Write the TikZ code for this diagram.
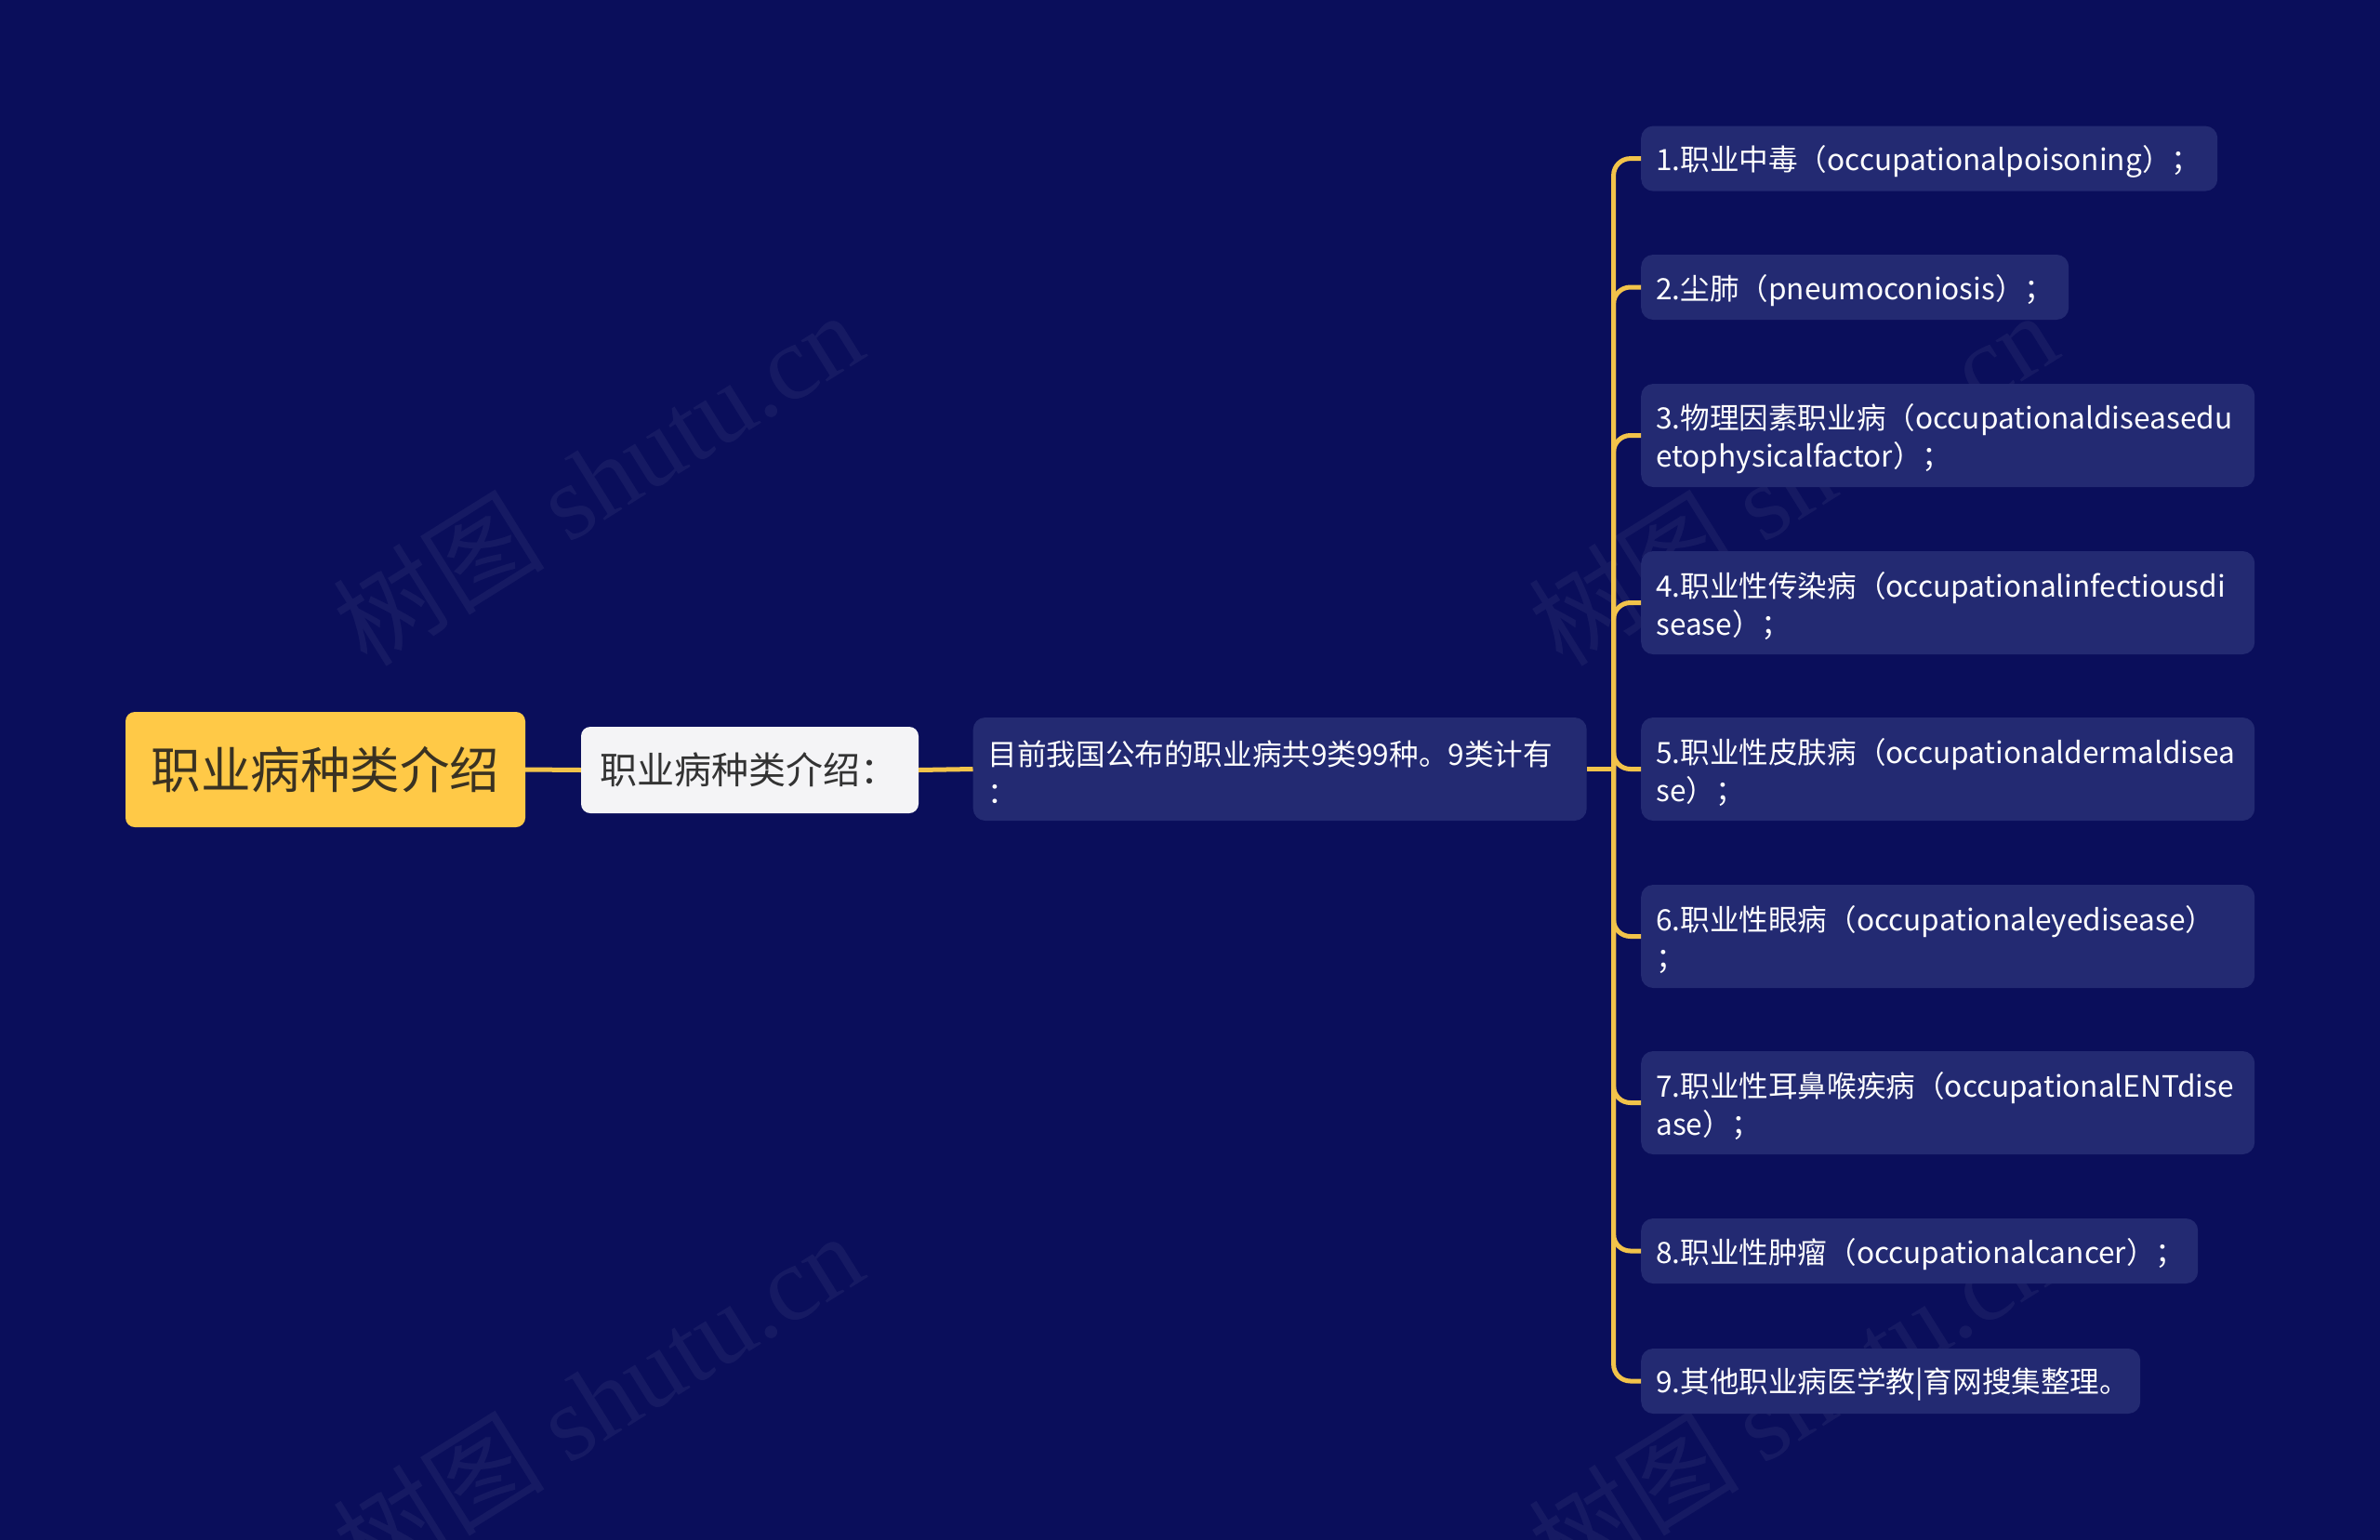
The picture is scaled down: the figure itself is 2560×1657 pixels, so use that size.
\documentclass[tikz,border=0pt]{standalone}
\usepackage{fontspec}
\setmainfont{Noto Sans CJK SC}
\newfontfamily\wmserif{Liberation Serif}
\definecolor{bg}{HTML}{0A0E5B}
\definecolor{leafbg}{HTML}{232A72}
\definecolor{rootbg}{HTML}{FFC947}
\definecolor{roottext}{HTML}{3A3222}
\definecolor{subbg}{HTML}{F4F4F6}
\definecolor{subtext}{HTML}{333333}
\definecolor{linkc}{HTML}{F2C34A}
\begin{document}
\begin{tikzpicture}[x=1pt,y=-1pt,
  leaf/.style={fill=leafbg, rounded corners=13pt, anchor=west, minimum height=70pt,
    inner xsep=16pt, inner ysep=0pt, align=left, text=white,
    font=\fontsize{31.6}{41}\selectfont, execute at begin node={\rule{0pt}{34pt}}},
  twoline/.style={minimum height=111pt},
  link/.style={draw=linkc, line width=5pt, rounded corners=18pt},
  wm/.style={text=white, opacity=0.05, rotate=32, font=\fontsize{114}{120}\selectfont}
]
\useasboundingbox (0,0) rectangle (2560,1657);
\fill[bg] (0,0) rectangle (2560,1657);

% watermarks
\node[wm] (wm1) at (643,514) {树图 {\wmserif shutu.cn}};
\node[wm] (wm2) at (1928,514) {树图 {\wmserif shutu.cn}};
\node[wm] (wm3) at (643,1505) {树图 {\wmserif shutu.cn}};
\node[wm] (wm4) at (1928,1505) {树图 {\wmserif shutu.cn}};

% main nodes
\node[fill=rootbg, rounded corners=10pt, minimum width=430pt, minimum height=124pt,
  text=roottext, font=\fontsize{53.5}{60}\selectfont] (root) at (350,828) {职业病种类介绍};
\node[fill=subbg, rounded corners=10pt, minimum height=93pt, inner xsep=20pt, inner ysep=0pt,
  text width=323pt, align=left, text=subtext, font=\fontsize{40}{48}\selectfont] (sub) at (806.5,828.5) {职业病种类介绍：};
\node[leaf, twoline, text width=628pt, execute at begin node={\rule{0pt}{27pt}}] (intro) at (1046.5,827.5) {目前我国公布的职业病共9类99种。9类计有\\：};

% leaves
\node[leaf, text width=588pt] (l1) at (1765,170.6) {1.职业中毒（occupationalpoisoning）；};
\node[leaf, text width=428pt] (l2) at (1765,309) {2.尘肺（pneumoconiosis）；};
\node[leaf, twoline, text width=628pt] (l3) at (1765,468.5) {3.物理因素职业病（occupationaldiseasedu\\etophysicalfactor）；};
\node[leaf, twoline, text width=628pt] (l4) at (1765,648.5) {4.职业性传染病（occupationalinfectiousdi\\sease）；};
\node[leaf, twoline, text width=628pt] (l5) at (1765,827.5) {5.职业性皮肤病（occupationaldermaldisea\\se）；};
\node[leaf, twoline, text width=628pt] (l6) at (1765,1007.5) {6.职业性眼病（occupationaleyedisease）\\；};
\node[leaf, twoline, text width=628pt] (l7) at (1765,1186.5) {7.职业性耳鼻喉疾病（occupationalENTdise\\ase）；};
\node[leaf, text width=567pt] (l8) at (1765,1346) {8.职业性肿瘤（occupationalcancer）；};
\node[leaf, text width=505pt] (l9) at (1765,1486) {9.其他职业病医学教|育网搜集整理。};

% connectors
\draw[link] (root.east) -- (sub.west);
\draw[link] (sub.east) -- (intro.west);
\coordinate (fork) at (1735.6,827.5);
\draw[link] (intro.east) -- (fork);
\foreach \n in {l1,l2,l3,l4,l5,l6,l7,l8,l9}{
  \draw[link] (fork) |- (\n.west);
}
\end{tikzpicture}
\end{document}
